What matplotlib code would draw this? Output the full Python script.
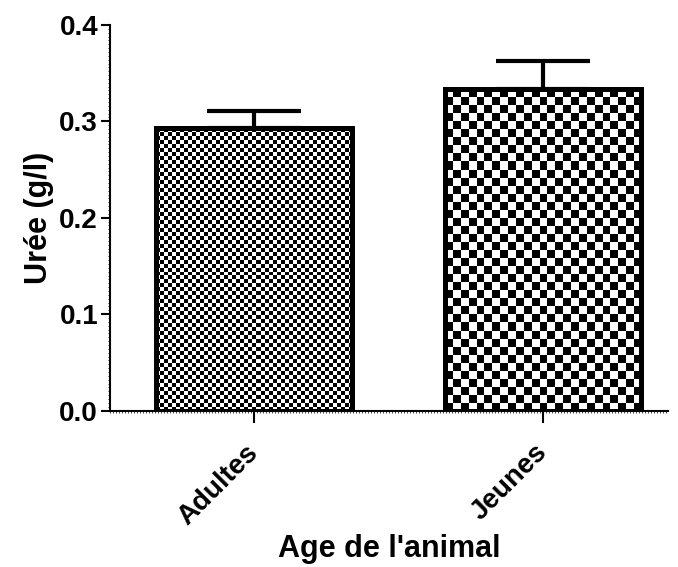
import numpy as np
import matplotlib
matplotlib.use("Agg")
import matplotlib.pyplot as plt
from matplotlib.ticker import MultipleLocator

# data
groups = ["Adultes", "Jeunes"]
means = [0.293, 0.334]
sem = [0.018, 0.029]
cell_px = [4, 8]  # checker size of each bar's pattern

plt.rcParams["font.family"] = ["Liberation Sans", "DejaVu Sans"]
plt.rcParams["font.weight"] = "bold"

fig = plt.figure(figsize=(6.78, 5.67), dpi=100)
ax = fig.add_axes([0.162, 0.276, 0.823, 0.680])

x = np.arange(len(groups))
width = 0.68
bars = ax.bar(x, means, width=width, facecolor="none", edgecolor="black",
              linewidth=3.6, zorder=3)
ax.errorbar(x, means, yerr=[np.zeros(len(sem)), sem], fmt="none", ecolor="black",
            elinewidth=3, capsize=34, capthick=3, zorder=2)

ax.set_xlim(-0.5, 1.432)
ax.set_ylim(0, 0.4)

# checkerboard fill, clipped to each bar
for b, c in zip(bars, cell_px):
    x0, y0 = b.get_x(), b.get_y()
    x1, y1 = x0 + b.get_width(), y0 + b.get_height()
    p0 = ax.transData.transform((x0, y0))
    p1 = ax.transData.transform((x1, y1))
    nx = max(1, int(round(abs(p1[0] - p0[0]) / c)))
    ny = max(1, int(round(abs(p1[1] - p0[1]) / c)))
    board = (np.add.outer(np.arange(ny), np.arange(nx)) % 2).astype(float)
    im = ax.imshow(board, cmap="gray", extent=(x0, x1, y0, y1), origin="lower",
                   interpolation="nearest", aspect="auto", zorder=1)
    im.set_clip_path(b)

ax.set_xlim(-0.5, 1.432)
ax.set_ylim(0, 0.4)

for side in ["top", "right"]:
    ax.spines[side].set_visible(False)
for side in ["left", "bottom"]:
    ax.spines[side].set_linewidth(1.5)

ax.set_xticks(x)
ax.set_xticklabels(groups, rotation=45, ha="right", va="center", rotation_mode="anchor",
                   fontsize=20, fontweight="bold")
ax.set_yticks([0.0, 0.1, 0.2, 0.3, 0.4])
ax.set_yticklabels(["0.0", "0.1", "0.2", "0.3", "0.4"], fontsize=20, fontweight="bold")
ax.yaxis.set_minor_locator(MultipleLocator(0.004))
ax.xaxis.set_minor_locator(MultipleLocator(0.0104))
ax.tick_params(axis="y", which="major", length=6.5, width=1.5, pad=2)
ax.tick_params(axis="x", which="major", length=8.6, width=1.5, pad=19)
ax.tick_params(which="minor", length=1.5, width=0.5)

ax.set_ylabel("Urée (g/l)", fontsize=22, fontweight="bold", labelpad=4)
ax.set_xlabel("Age de l'animal", fontsize=22, fontweight="bold", labelpad=3)

fig.savefig("out.png", dpi=100)
